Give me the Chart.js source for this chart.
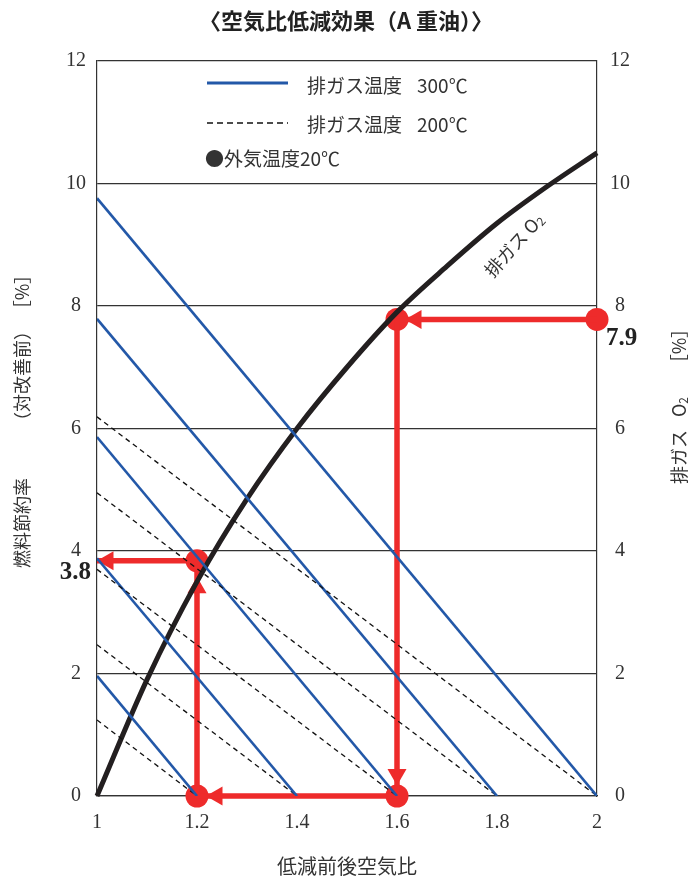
<!DOCTYPE html>
<html>
<head>
<meta charset="utf-8">
<script src="https://cdn.jsdelivr.net/npm/chart.js@4.4.1/dist/chart.umd.min.js"></script>
<style>
  html, body { margin: 0; padding: 0; background: #fff; }
  #wrap { width: 691px; height: 879px; position: relative; }
</style>
</head>
<body>
<div id="wrap"><canvas id="c" width="691" height="879"></canvas></div>
<script>
// --- data ---
const xTicks = [1, 1.2, 1.4, 1.6, 1.8, 2];
const yTicks = [0, 2, 4, 6, 8, 10, 12];

// each iso-temperature line runs from (1, start) down to (end, 0)
const lineEnds = [2.0, 1.8, 1.6, 1.4, 1.2];
const hot300Starts = [9.76, 7.79, 5.86, 3.88, 1.96];
const hot200Starts = [6.19, 4.95, 3.7, 2.47, 1.24];

// exhaust O2 curve
const o2X = [1.0, 1.1, 1.2, 1.3, 1.4, 1.5, 1.6, 1.7, 1.8, 1.9, 2.0];
const o2Y = [0, 1.9, 3.5, 4.85, 6.0, 7.0, 7.9, 8.65, 9.35, 9.95, 10.5];

// worked example path (red), as drawn in the picture
const pathX = [2.0, 1.6, 1.6, 1.2, 1.2, 1.0];
const pathY = [7.78, 7.78, 0, 0, 3.84, 3.84];
const dotX = [2.0, 1.6, 1.6, 1.2, 1.2];
const dotY = [7.78, 7.78, 0, 0, 3.84];
// arrow heads: position + direction (deg, 0 = up)
const headX = [1.638, 1.6, 1.24, 1.2, 1.022];
const headY = [7.78, 0.35, 0, 3.4, 3.84];
const headRot = [-90, 180, -90, 0, -90];

const o2Label = '7.9';
const savingLabel = '3.8';

const BLUE = '#2358a8';
const RED = '#ee2b2b';
const INK = '#333';
const SANS = '"Noto Sans CJK JP", "Noto Sans", sans-serif';
const SERIF = '"Liberation Serif", "DejaVu Serif", serif';

const datasets = [];
lineEnds.forEach((end, i) => {
  datasets.push({
    data: [{x: 1, y: hot300Starts[i]}, {x: end, y: 0}],
    borderColor: BLUE, borderWidth: 2.6, pointRadius: 0, showLine: true
  });
  datasets.push({
    data: [{x: 1, y: hot200Starts[i]}, {x: end, y: 0}],
    borderColor: '#111', borderWidth: 1.3, borderDash: [5, 4], pointRadius: 0, showLine: true
  });
});
datasets.push({
  data: o2X.map((x, i) => ({x, y: o2Y[i]})),
  borderColor: '#231f20', borderWidth: 5, pointRadius: 0, showLine: true,
  cubicInterpolationMode: 'monotone', clip: 4
});
datasets.push({
  data: pathX.map((x, i) => ({x, y: pathY[i]})),
  borderColor: RED, borderWidth: 5.5, pointRadius: 0, showLine: true, clip: false
});
datasets.push({
  data: dotX.map((x, i) => ({x, y: dotY[i]})),
  backgroundColor: RED, borderWidth: 0, pointRadius: 11.5, showLine: false, clip: false
});
datasets.push({
  data: headX.map((x, i) => ({x, y: headY[i]})),
  backgroundColor: RED, borderWidth: 0, pointRadius: 11, pointStyle: 'triangle',
  rotation: headRot, showLine: false, clip: false
});

// text with a subscript tail, centred on the current origin
function subText(ctx, main, sub, size) {
  ctx.font = size + 'px ' + SANS;
  const w1 = ctx.measureText(main).width;
  ctx.font = Math.round(size * 0.65) + 'px ' + SANS;
  const w2 = ctx.measureText(sub).width;
  const x0 = -(w1 + w2) / 2;
  ctx.textAlign = 'left';
  ctx.font = size + 'px ' + SANS;
  ctx.fillText(main, x0, 0);
  ctx.font = Math.round(size * 0.65) + 'px ' + SANS;
  ctx.fillText(sub, x0 + w1, size * 0.22);
}

// vertical (bottom-to-top) label pieces: [text, centre y]
function vText(ctx, x, pieces, size) {
  ctx.save();
  ctx.translate(x, 0);
  ctx.rotate(-Math.PI / 2);
  pieces.forEach(p => {
    if (p.sub) {
      ctx.save(); ctx.translate(-p.y, 0); subText(ctx, p.t, p.sub, size); ctx.restore();
    } else {
      ctx.font = size + 'px ' + SANS;
      ctx.textAlign = 'center';
      ctx.fillText(p.t, -p.y, 0);
    }
  });
  ctx.restore();
}

const decor = {
  id: 'decor',
  afterDraw(chart) {
    const ctx = chart.ctx;
    const xs = chart.scales.x, ys = chart.scales.y;
    ctx.save();
    ctx.fillStyle = '#222';
    ctx.textBaseline = 'middle';

    // title
    ctx.font = 'bold 22px ' + SANS;
    ctx.textAlign = 'center';
    ctx.fillText('〈空気比低減効果（A 重油）〉', 346, 21);

    // x axis title
    ctx.fillStyle = INK;
    ctx.font = '20px ' + SANS;
    ctx.fillText('低減前後空気比', (xs.left + xs.right) / 2, 866);

    // left axis title
    vText(ctx, 22, [
      {t: '燃料節約率', y: 523},
      {t: '（対改善前）', y: 376},
      {t: '［%］', y: 292}
    ], 18);

    // right axis title
    vText(ctx, 679, [
      {t: '排ガス', y: 457},
      {t: 'O', sub: '2', y: 407},
      {t: '［%］', y: 346}
    ], 18);

    // legend
    const lx0 = 207, lx1 = 288;
    ctx.lineWidth = 3;
    ctx.strokeStyle = BLUE;
    ctx.beginPath(); ctx.moveTo(lx0, 83); ctx.lineTo(lx1, 83); ctx.stroke();
    ctx.lineWidth = 1.3;
    ctx.strokeStyle = '#111';
    ctx.setLineDash([6, 4]);
    ctx.beginPath(); ctx.moveTo(lx0, 123); ctx.lineTo(lx1, 123); ctx.stroke();
    ctx.setLineDash([]);
    ctx.font = '19px ' + SANS;
    ctx.textAlign = 'left';
    ctx.fillText('排ガス温度', 307, 86);
    ctx.fillText('排ガス温度', 307, 125);
    ctx.fillText('300℃', 417, 86);
    ctx.fillText('200℃', 417, 125);
    ctx.fillText('●外気温度20℃', 205, 159);

    // curve label
    ctx.save();
    ctx.translate(514, 245);
    ctx.rotate(-48 * Math.PI / 180);
    subText(ctx, '排ガス O', '2', 18);
    ctx.restore();

    // value callouts
    ctx.font = 'bold 25px ' + SERIF;
    ctx.fillStyle = '#222';
    ctx.textAlign = 'left';
    ctx.fillText(o2Label, xs.getPixelForValue(2) + 9, ys.getPixelForValue(dotY[0]) + 19);
    ctx.textAlign = 'right';
    ctx.fillText(savingLabel, xs.getPixelForValue(1) - 6, ys.getPixelForValue(dotY[4]) + 12);
    ctx.restore();
  }
};

new Chart(document.getElementById('c'), {
  type: 'scatter',
  data: { datasets },
  options: {
    responsive: false,
    animation: false,
    events: [],
    layout: { padding: { top: 61, left: 0, right: 0, bottom: 0 } },
    plugins: { legend: { display: false }, tooltip: { enabled: false } },
    scales: {
      x: {
        type: 'linear', min: 1, max: 2,
        afterBuildTicks: s => { s.ticks = xTicks.map(v => ({value: v})); },
        afterFit: s => { s.height = 83; },
        grid: { display: false, drawTicks: false },
        border: { display: true, color: '#333', width: 1.2 },
        ticks: {
          padding: 15, color: INK, font: { family: SERIF, size: 20 },
          callback: v => String(v)
        }
      },
      y: {
        type: 'linear', position: 'left', min: 0, max: 12,
        afterBuildTicks: s => { s.ticks = yTicks.map(v => ({value: v})); },
        afterFit: s => { s.width = 97; },
        grid: { color: '#333', lineWidth: 1.2, drawTicks: false },
        border: { display: true, color: '#333', width: 1.2 },
        ticks: { padding: 11, crossAlign: 'center', color: INK, font: { family: SERIF, size: 20 } }
      },
      y2: {
        type: 'linear', position: 'right', min: 0, max: 12,
        afterBuildTicks: s => { s.ticks = yTicks.map(v => ({value: v})); },
        afterFit: s => { s.width = 94; },
        grid: { display: false, drawTicks: false },
        border: { display: true, color: '#333', width: 1.2 },
        ticks: { padding: 13, crossAlign: 'center', color: INK, font: { family: SERIF, size: 20 } }
      }
    }
  },
  plugins: [decor]
});
</script>
</body>
</html>
